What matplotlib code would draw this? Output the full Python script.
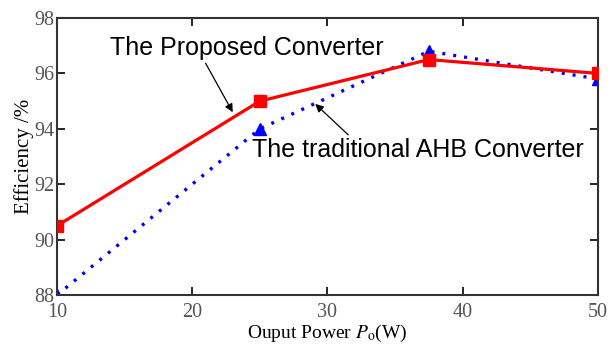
import matplotlib
matplotlib.use("Agg")
from matplotlib import pyplot

pyplot.rcParams['mathtext.fontset'] = 'stix'

# efficiency vs output power
power = [10, 25, 37.5, 50]
eff_proposed = [90.5, 95.0, 96.5, 96.0]
eff_ahb = [88.0, 94.0, 96.8, 95.8]

xticks = [10, 20, 30, 40, 50]
yticks = [88, 90, 92, 94, 96, 98]

serif = ['Liberation Serif', 'DejaVu Serif']
sans = ['Liberation Sans', 'DejaVu Sans']

f = pyplot.figure(figsize=(6.12, 3.46), dpi=100)
ax = f.add_axes([0.093, 0.147, 0.884, 0.801])

ax.plot(power, eff_ahb, color='#0000ff', lw=2.4, linestyle=(0, (0.9, 2.4)),
        dash_capstyle='butt', marker='^', markersize=9, zorder=2)
ax.plot(power, eff_proposed, color='#ff0000', lw=2.3, marker='s',
        markersize=8.5, zorder=3)

ax.set_xlim(10, 50)
ax.set_ylim(88, 98)
ax.set_xticks(xticks)
ax.set_yticks(yticks)
ax.tick_params(direction='in', length=6, width=1.2, top=True, right=True,
               labelsize=14.5, labelcolor='#555555')
ax.tick_params(axis='x', pad=6)
ax.tick_params(axis='y', pad=2)
for lab in ax.get_xticklabels() + ax.get_yticklabels():
    lab.set_family(serif)
for s in ax.spines.values():
    s.set_linewidth(1.5)
    s.set_color('#333333')

ax.set_ylabel('Efficiency /%', fontsize=15, family=serif, labelpad=0)
ax.set_xlabel(r'Ouput Power $P_{\mathrm{o}}$(W)', fontsize=14, family=serif, labelpad=0)

ax.annotate('The Proposed Converter', xy=(23.0, 94.6), xytext=(13.9, 96.9),
            fontsize=18, family=sans, ha='left', va='center',
            arrowprops=dict(arrowstyle='-|>', color='black', lw=0.9,
                            mutation_scale=12, shrinkA=0, shrinkB=0,
                            relpos=(0.345, 0.0)))
ax.annotate('The traditional AHB Converter', xy=(29.1, 94.9), xytext=(24.4, 93.25),
            fontsize=18, family=sans, ha='left', va='center',
            arrowprops=dict(arrowstyle='-|>', color='black', lw=0.9,
                            mutation_scale=12, shrinkA=0, shrinkB=0,
                            relpos=(0.3, 1.0)))

pyplot.savefig('out.png', dpi=100)
